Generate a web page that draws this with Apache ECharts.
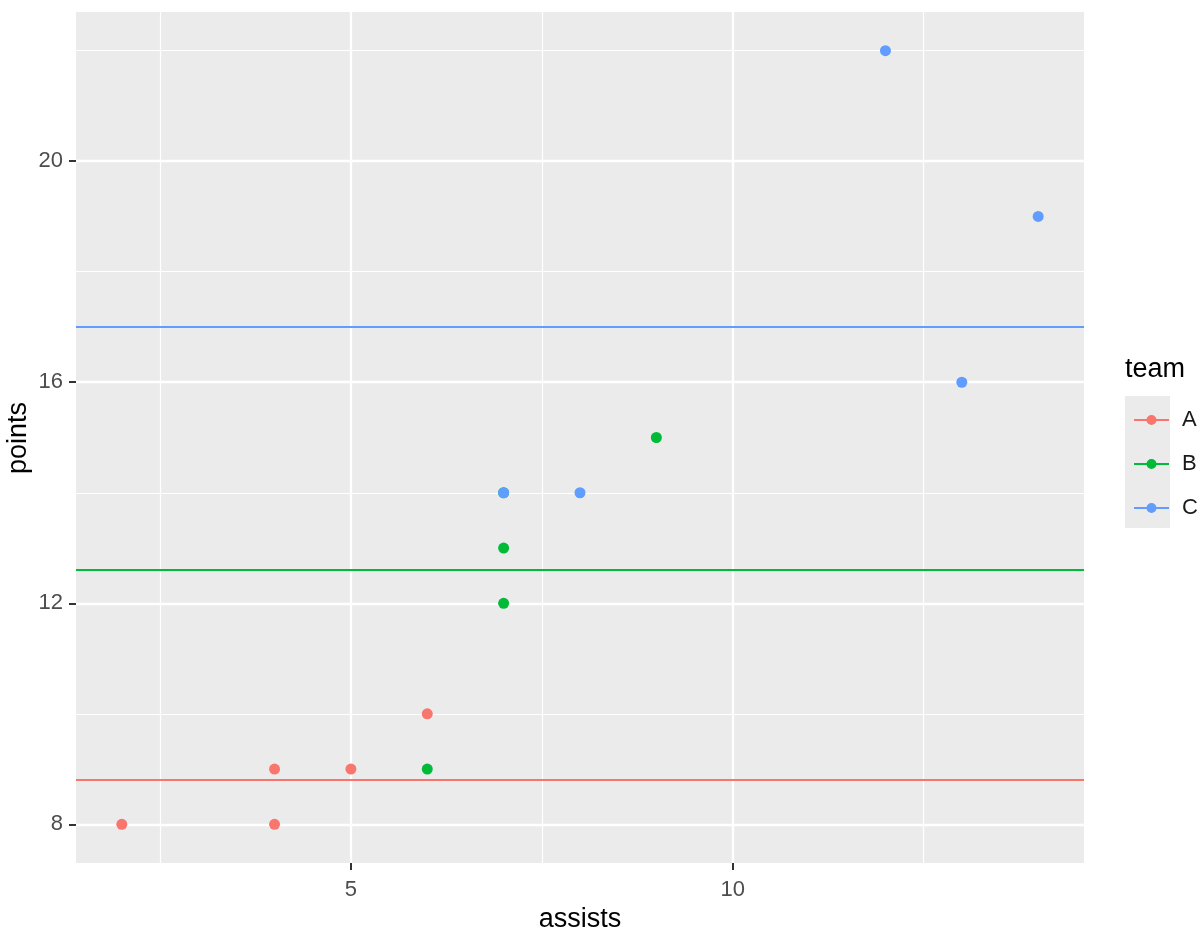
<!DOCTYPE html>
<html>
<head>
<meta charset="utf-8" />
<script src="https://cdn.jsdelivr.net/npm/echarts@6/dist/echarts.min.js"></script>
<style>
  html, body { margin: 0; padding: 0; background: #fff; }
  #chart { width: 1201px; height: 931px; }
</style>
</head>
<body>
<div id="chart"></div>
<script>
// team data: [assists, points]
const teams = ['A', 'B', 'C']
const teamA = [[2, 8], [4, 8], [4, 9], [5, 9], [6, 10]]
const teamB = [[6, 9], [7, 12], [7, 13], [7, 14], [9, 15]]
const teamC = [[7, 14], [8, 14], [12, 22], [13, 16], [14, 19]]
const teamColors = ['#F8766D', '#00BA38', '#619CFF']

// axis ticks (ggplot style: major + minor)
const xTicks = [5, 10]
const xMinor = [2.5, 7.5, 12.5]
const yTicks = [8, 12, 16, 20]
const yMinor = [10, 14, 18, 22]

const teamData = [teamA, teamB, teamC]
const mean = (arr) => arr.reduce((s, d) => s + d[1], 0) / arr.length

const chart = echarts.init(document.getElementById('chart'))
const font = 'Liberation Sans, Arial, sans-serif'

const gridLines = []
xMinor.forEach(v => gridLines.push({ xAxis: v, lineStyle: { width: 1.2 } }))
yMinor.forEach(v => gridLines.push({ yAxis: v, lineStyle: { width: 1.2 } }))
xTicks.forEach(v => gridLines.push({ xAxis: v, lineStyle: { width: 2.3 } }))
yTicks.forEach(v => gridLines.push({ yAxis: v, lineStyle: { width: 2.3 } }))

// legend key: line with a dot in the middle
const keyIcon = 'path://M0,4.5L35,4.5L35,6.5L0,6.5Z M12.5,5.5A5,5 0 1,1 22.5,5.5A5,5 0 1,1 12.5,5.5Z'

const series = [
  {
    type: 'scatter',
    data: [],
    silent: true,
    z: 1,
    markLine: {
      silent: true,
      z: 1,
      symbol: 'none',
      label: { show: false },
      lineStyle: { color: '#ffffff', type: 'solid' },
      emphasis: { disabled: true },
      data: gridLines,
    },
  },
]

teams.forEach((t, i) => {
  series.push({
    name: t,
    type: 'scatter',
    data: teamData[i],
    symbol: 'circle',
    symbolSize: 11,
    itemStyle: { color: teamColors[i], opacity: 1 },
    z: 10,
    markLine: {
      silent: true,
      z: 4,
      symbol: 'none',
      label: { show: false },
      lineStyle: { color: teamColors[i], width: 2, type: 'solid' },
      data: [{ yAxis: mean(teamData[i]) }],
    },
  })
})

chart.setOption({
  animation: false,
  backgroundColor: '#ffffff',
  textStyle: { fontFamily: font },
  grid: {
    left: 76,
    top: 12,
    right: 117,
    bottom: 68,
    containLabel: false,
    outerBoundsMode: 'none',
    show: true,
    backgroundColor: '#EBEBEB',
    borderWidth: 0,
  },
  xAxis: {
    type: 'value',
    min: 1.4,
    max: 14.6,
    name: 'assists',
    nameLocation: 'middle',
    nameGap: 41,
    nameTextStyle: { color: '#000', fontSize: 27 },
    axisLine: { show: false },
    splitLine: { show: false },
    axisTick: {
      show: true,
      length: 7,
      customValues: xTicks,
      lineStyle: { color: '#333333', width: 2 },
    },
    axisLabel: {
      customValues: xTicks,
      margin: 16,
      color: '#4D4D4D',
      fontSize: 22,
    },
  },
  yAxis: {
    type: 'value',
    min: 7.3,
    max: 22.7,
    axisLine: { show: false },
    splitLine: { show: false },
    axisTick: {
      show: true,
      length: 7,
      customValues: yTicks,
      lineStyle: { color: '#333333', width: 2 },
    },
    axisLabel: {
      customValues: yTicks,
      margin: 13,
      color: '#4D4D4D',
      fontSize: 22,
    },
  },
  legend: {
    data: teams.map(t => ({ name: t, icon: keyIcon })),
    orient: 'vertical',
    left: 1129,
    top: 404,
    itemWidth: 35,
    itemHeight: 11,
    itemGap: 22,
    selectedMode: false,
    textStyle: {
      color: '#1a1a1a',
      fontSize: 22,
      padding: [0, 0, 0, 8],
    },
  },
  graphic: [
    {
      type: 'rect',
      left: 1125,
      top: 396,
      shape: { width: 45, height: 132 },
      style: { fill: '#EBEBEB' },
      z: -1,
      silent: true,
    },
    {
      type: 'text',
      left: 1125,
      top: 356,
      style: { text: 'team', fill: '#000', fontSize: 27, fontFamily: font },
      silent: true,
    },
    {
      // y-axis title, rotated like ggplot
      type: 'text',
      x: 19,
      y: 438,
      rotation: Math.PI / 2,
      style: {
        text: 'points',
        fill: '#000',
        fontSize: 27,
        fontFamily: font,
        align: 'center',
        verticalAlign: 'middle',
      },
      silent: true,
    },
  ],
  series,
})
</script>
</body>
</html>
